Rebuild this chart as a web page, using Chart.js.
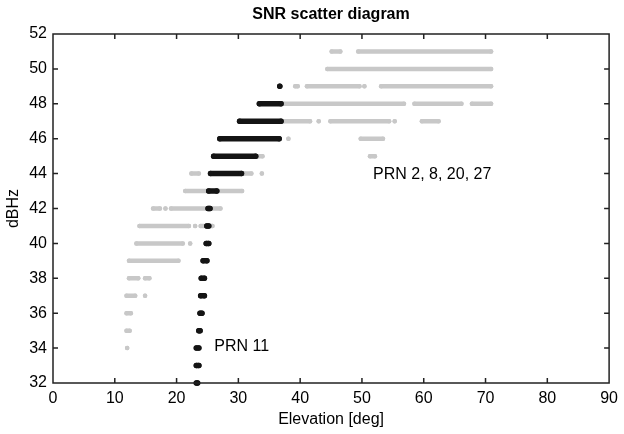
<!DOCTYPE html>
<html><head><meta charset="utf-8">
<script src="https://cdn.jsdelivr.net/npm/chart.js@4/dist/chart.umd.min.js"></script>
<style>html,body{margin:0;padding:0;background:#fff}#wrap{width:624px;height:434px}</style>
</head><body><div id="wrap"><canvas id="c" width="624" height="434"></canvas></div>
<script>
// ---- data ----
const xTicks = [0, 10, 20, 30, 40, 50, 60, 70, 80, 90];
const yTicks = [32, 34, 36, 38, 40, 42, 44, 46, 48, 50, 52];

// runs of samples: [dBHz, elevation start, elevation end]
const prn11Runs = [
  [49, 36.7, 36.7],
  [48, 33.4, 36.9],
  [47, 30.2, 36.9],
  [46, 27.0, 36.6],
  [45, 26.0, 32.8],
  [44, 25.5, 30.5],
  [43, 25.2, 26.5],
  [42, 25.1, 25.4],
  [41, 24.9, 25.2],
  [40, 24.8, 25.2],
  [39, 24.3, 24.9],
  [38, 24.0, 24.5],
  [37, 23.9, 24.5],
  [36, 23.8, 24.1],
  [35, 23.6, 23.8],
  [34, 23.2, 23.6],
  [33, 23.2, 23.6],
  [32, 23.2, 23.4]
];

const otherPrnRuns = [
  [51, 45.1, 46.5], [51, 49.4, 70.9],
  [50, 44.4, 70.9],
  [49, 39.2, 39.6], [49, 41.1, 49.6], [49, 50.4, 50.4], [49, 53.1, 70.9],
  [48, 37.3, 56.8], [48, 58.5, 66.1], [48, 67.8, 70.9],
  [47, 37.3, 41.6], [47, 43.0, 43.0], [47, 44.9, 54.4], [47, 55.3, 55.3], [47, 59.7, 62.4],
  [46, 38.1, 38.1], [46, 49.8, 53.4],
  [45, 33.2, 33.9], [45, 51.3, 52.1],
  [44, 22.4, 23.6], [44, 30.9, 32.1], [44, 33.8, 33.8],
  [43, 21.4, 30.6],
  [42, 16.2, 17.3], [42, 18.2, 18.2], [42, 19.1, 27.1],
  [41, 14.0, 22.0], [41, 23.0, 23.0], [41, 23.9, 25.8],
  [40, 13.5, 21.0], [40, 22.2, 22.2],
  [39, 12.3, 20.3],
  [38, 12.3, 13.8], [38, 14.9, 15.6],
  [37, 11.9, 13.3], [37, 14.9, 14.9],
  [36, 11.9, 12.6],
  [35, 11.9, 12.4],
  [34, 12.0, 12.0]
];

const labelTexts = ['PRN 2, 8, 20, 27', 'PRN 11'];
const labelElevation = [51.8, 26.1];
const labelSnr = [43.95, 34.1];

// ---- build ----
function toPoints(runs) {
  const pts = [];
  runs.forEach(([y, a, b]) => {
    pts.push({x: a, y: y});
    if (b !== a) pts.push({x: b, y: y});
    pts.push({x: b, y: null});
  });
  return pts;
}

const FONT = '"Liberation Sans", Arial, Helvetica, sans-serif';
const tickFont = {family: FONT, size: 16};

const decor = {
  id: 'decor',
  afterDraw(chart) {
    const {ctx, chartArea: a, scales: {x, y}} = chart;
    ctx.save();
    ctx.strokeStyle = '#222';
    ctx.lineWidth = 1.5;
    ctx.strokeRect(a.left, a.top, a.right - a.left, a.bottom - a.top);
    ctx.beginPath();
    xTicks.forEach(v => {
      const px = x.getPixelForValue(v);
      if (px <= a.left + 1 || px >= a.right - 1) return;
      ctx.moveTo(px, a.bottom); ctx.lineTo(px, a.bottom - 5);
      ctx.moveTo(px, a.top); ctx.lineTo(px, a.top + 5);
    });
    yTicks.forEach(v => {
      const py = y.getPixelForValue(v);
      if (py <= a.top + 1 || py >= a.bottom - 1) return;
      ctx.moveTo(a.left, py); ctx.lineTo(a.left + 5, py);
      ctx.moveTo(a.right, py); ctx.lineTo(a.right - 5, py);
    });
    ctx.stroke();
    ctx.fillStyle = '#000';
    ctx.font = 'bold 16px ' + FONT;
    ctx.textAlign = 'center';
    ctx.textBaseline = 'middle';
    ctx.fillText('SNR scatter diagram', (a.left + a.right) / 2, 14.5);
    ctx.font = '16px ' + FONT;
    ctx.textAlign = 'left';
    labelTexts.forEach((t, i) => {
      ctx.fillText(t, x.getPixelForValue(labelElevation[i]), y.getPixelForValue(labelSnr[i]));
    });
    ctx.restore();
  }
};

new Chart(document.getElementById('c'), {
  type: 'scatter',
  data: {
    datasets: [
      {
        label: 'PRN 11', data: toPoints(prn11Runs), showLine: true, spanGaps: false,
        borderColor: '#141414', backgroundColor: '#141414', pointBackgroundColor: '#141414',
        borderWidth: 5.5, borderCapStyle: 'round', borderJoinStyle: 'round',
        pointRadius: 2.75, pointHoverRadius: 2.75, pointBorderWidth: 0, clip: false
      },
      {
        label: 'PRN 2, 8, 20, 27', data: toPoints(otherPrnRuns), showLine: true, spanGaps: false,
        borderColor: '#c8c8c8', backgroundColor: '#c8c8c8', pointBackgroundColor: '#c8c8c8',
        borderWidth: 4.5, borderCapStyle: 'round', borderJoinStyle: 'round',
        pointRadius: 2.25, pointHoverRadius: 2.25, pointBorderWidth: 0, clip: false
      }
    ]
  },
  options: {
    responsive: false, animation: false, devicePixelRatio: 1,
    layout: {padding: {top: 34, right: 9, left: 0, bottom: 0}},
    plugins: {legend: {display: false}, tooltip: {enabled: false}, title: {display: false}},
    scales: {
      x: {
        type: 'linear', position: 'bottom', min: 0, max: 90,
        afterBuildTicks: s => { s.ticks = xTicks.map(v => ({value: v})); },
        ticks: {padding: 6, font: tickFont, color: '#000', maxRotation: 0, autoSkip: false},
        grid: {display: false, drawTicks: false}, border: {display: false},
        title: {display: true, text: 'Elevation [deg]', font: tickFont, color: '#000', padding: {top: 0, bottom: 5}},
        afterFit: s => { s.height = 51; }
      },
      y: {
        type: 'linear', position: 'left', min: 32, max: 52,
        afterBuildTicks: s => { s.ticks = yTicks.map(v => ({value: v})); },
        ticks: {padding: 6, font: tickFont, color: '#000', autoSkip: false},
        grid: {display: false, drawTicks: false}, border: {display: false},
        title: {display: true, text: 'dBHz', font: tickFont, color: '#000', padding: {top: 4, bottom: 0}},
        afterFit: s => { s.width = 53; }
      }
    }
  },
  plugins: [decor]
});
</script>
</body></html>
